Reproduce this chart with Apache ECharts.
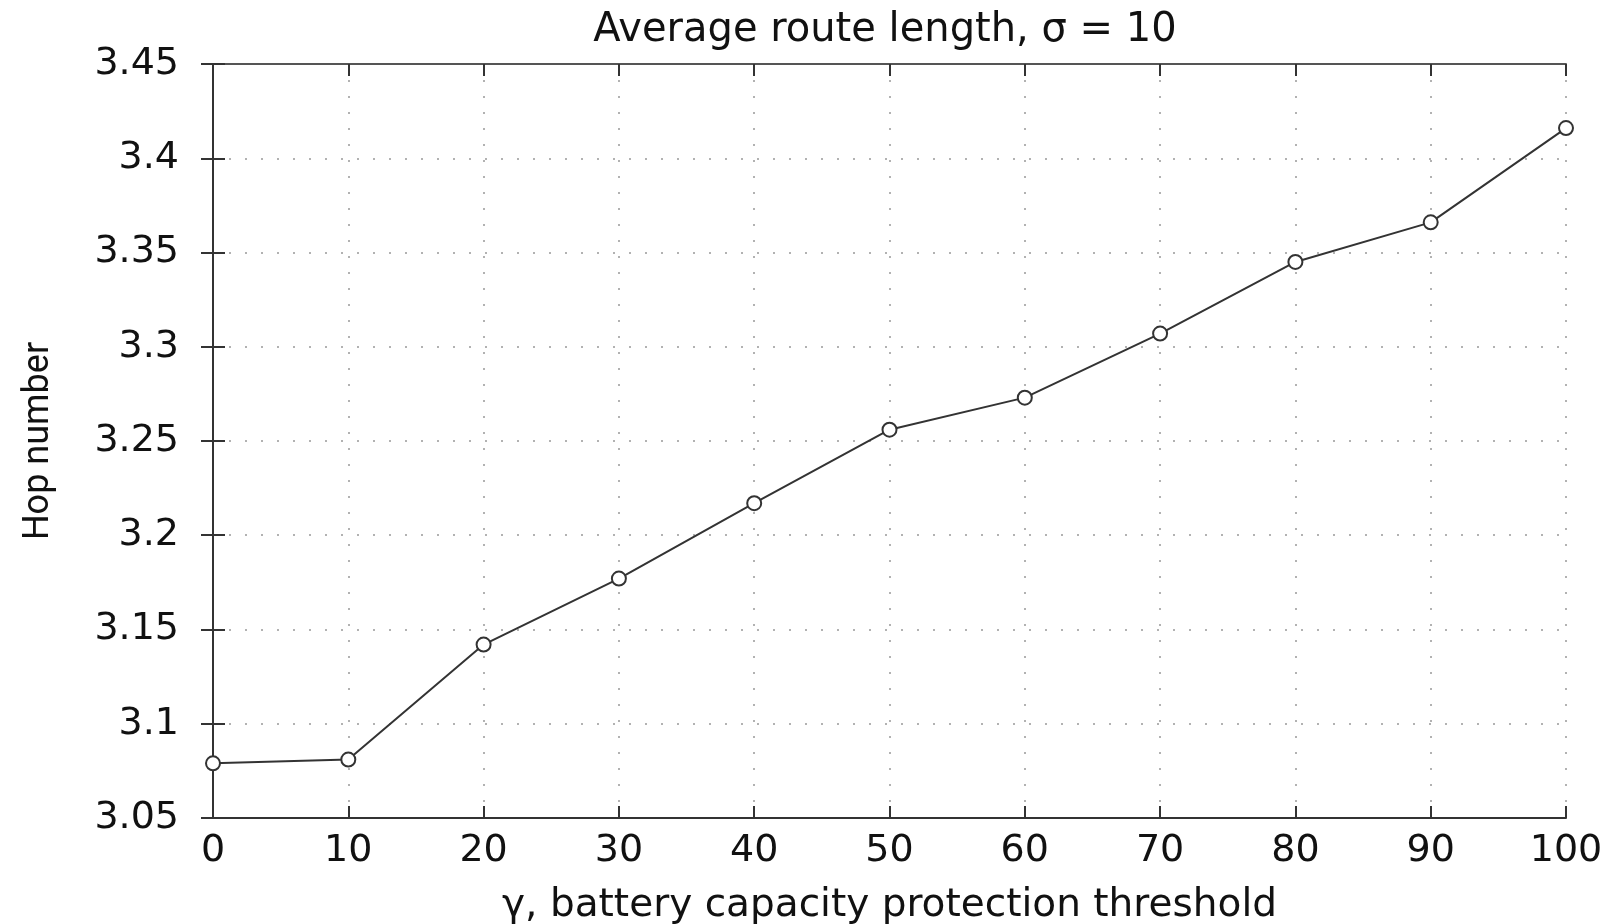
<!DOCTYPE html>
<html><head><meta charset="utf-8">
<script src="https://cdn.jsdelivr.net/npm/echarts@6/dist/echarts.min.js"></script>
<style>html,body{margin:0;padding:0;background:#fff}#c{width:1614px;height:924px}</style>
</head><body><div id="c"></div>
<script>
const categories = [0, 10, 20, 30, 40, 50, 60, 70, 80, 90, 100];
const hopNumber = [3.079, 3.081, 3.142, 3.177, 3.217, 3.256, 3.273, 3.307, 3.345, 3.366, 3.416];
const yTicks = [3.05, 3.1, 3.15, 3.2, 3.25, 3.3, 3.35, 3.4, 3.45];

const chart = echarts.init(document.getElementById('c'));
const tickFont = {fontFamily: 'DejaVu Sans', fontSize: 38, color: '#111'};
const grid = {type: [2, 14], color: '#999', width: 1.5};
chart.setOption({
  animation: false,
  title: {
    text: 'Average route length, σ = 10',
    left: 880, top: 6, textAlign: 'center',
    textStyle: {fontFamily: 'DejaVu Sans', fontWeight: 'normal', fontSize: 40, color: '#111'}
  },
  grid: {left: 213, right: 48, top: 64, bottom: 106, outerBoundsMode: 'none', containLabel: false},
  xAxis: [{
    type: 'value', min: 0, max: 100, interval: 10,
    name: 'γ, battery capacity protection threshold',
    nameLocation: 'middle', nameGap: 68,
    nameTextStyle: {fontFamily: 'DejaVu Sans', fontSize: 39, color: '#111'},
    axisLine: {lineStyle: {color: '#333', width: 2}},
    axisTick: {inside: true, length: 12, lineStyle: {color: '#333', width: 2}},
    axisLabel: Object.assign({margin: 14}, tickFont),
    splitLine: {show: true, lineStyle: grid}
  }, {
    type: 'value', min: 0, max: 100, interval: 10, position: 'top',
    axisLine: {show: true, lineStyle: {color: '#555', width: 2}},
    axisTick: {inside: true, length: 12, lineStyle: {color: '#333', width: 2}},
    axisLabel: {show: false}, splitLine: {show: false}
  }],
  yAxis: [{
    type: 'value', min: 3.05, max: 3.45, interval: 0.05,
    name: 'Hop number', nameLocation: 'middle', nameGap: 156, nameRotate: 90,
    nameTextStyle: {fontFamily: 'Roboto', fontSize: 36, color: '#111'},
    axisLine: {show: true, lineStyle: {color: '#333', width: 2}},
    axisTick: {show: true, inside: true, length: 12, lineStyle: {color: '#333', width: 2}},
    axisLabel: Object.assign({margin: 34, formatter: v => String(+v.toFixed(2))}, tickFont),
    splitLine: {show: true, lineStyle: grid}
  }, {
    type: 'value', min: 3.05, max: 3.45, interval: 0.05, position: 'right',
    axisLine: {show: true, lineStyle: {color: '#333', width: 2}},
    axisTick: {show: true, inside: true, length: 12, lineStyle: {color: '#333', width: 2}},
    axisLabel: {show: false}, splitLine: {show: false}
  }],
  series: [{
    type: 'line',
    data: categories.map((x, i) => [x, hopNumber[i]]),
    symbol: 'circle', symbolSize: 14, showAllSymbol: true,
    lineStyle: {color: '#333', width: 2},
    itemStyle: {color: '#fff', borderColor: '#333', borderWidth: 2}
  }]
});
</script></body></html>
